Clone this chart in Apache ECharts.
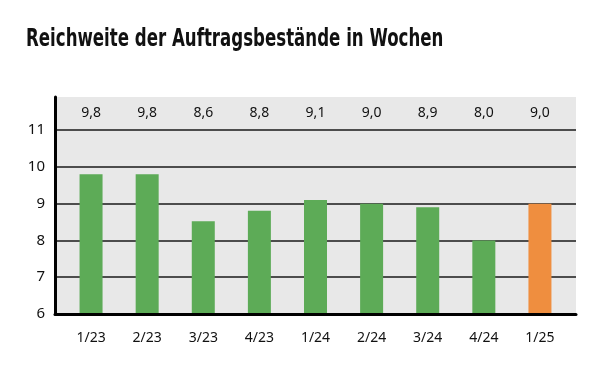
<!DOCTYPE html>
<html>
<head>
<meta charset="utf-8">
<script src="https://cdn.jsdelivr.net/npm/echarts@6/dist/echarts.min.js"></script>
<style>
html,body{margin:0;padding:0;background:#fff;}
#chart{width:613px;height:373px;}
</style>
</head>
<body>
<div id="chart"></div>
<script>
var titleText = 'Reichweite der Auftragsbestände in Wochen';
var categories = ['1/23','2/23','3/23','4/23','1/24','2/24','3/24','4/24','1/25'];
var barValues = [9.8, 9.8, 8.52, 8.81, 9.1, 9.0, 8.9, 8.0, 9.0];
var valueLabels = ['9,8','9,8','8,6','8,8','9,1','9,0','8,9','8,0','9,0'];
var yTicks = [6, 7, 8, 9, 10, 11];
var yMin = 6, yMax = 11.9;

var GREEN = '#5dab57', ORANGE = '#ef8e3f';
var labelFont = 'Noto Sans';

var chart = echarts.init(document.getElementById('chart'), null, {renderer:'canvas'});
chart.setOption({
  animation: false,
  backgroundColor: '#ffffff',
  graphic: [{
    type: 'text', x: 26, y: 40, scaleX: 0.77, scaleY: 1,
    style: {text: titleText, fontFamily: "'DejaVu Sans Condensed', Roboto", fontWeight: 'bold',
            fontSize: 24, fill: '#111', verticalAlign: 'middle', align: 'left'}
  }],
  grid: [
    {left: 55, right: 37, top: 97, bottom: 59, show: true, backgroundColor: '#e8e8e8', borderWidth: 0},
    {left: 63, right: 45, top: 97, bottom: 59}
  ],
  xAxis: [
    {gridIndex: 0, type: 'value', min: 0, max: 1, z: 10,
     axisLine: {show: true, onZero: false, lineStyle: {color: '#000', width: 3}},
     axisTick: {show: false}, axisLabel: {show: false}, splitLine: {show: false}},
    {gridIndex: 1, type: 'category', data: categories,
     axisLine: {show: false}, axisTick: {show: false},
     axisLabel: {margin: 17, fontFamily: labelFont, fontSize: 14, color: '#111'}},
    {gridIndex: 1, type: 'category', position: 'top', data: valueLabels,
     axisLine: {show: false}, axisTick: {show: false},
     axisLabel: {inside: true, margin: 9, fontFamily: labelFont, fontSize: 14, color: '#111'}}
  ],
  yAxis: [
    {gridIndex: 0, type: 'value', min: yMin, max: yMax, interval: 1,
     axisLine: {show: true, lineStyle: {color: '#000', width: 3}},
     axisTick: {show: false},
     axisLabel: {margin: 10, fontFamily: labelFont, fontSize: 15, color: '#111',
       formatter: function (v) { return yTicks.indexOf(v) >= 0 ? String(v) : ''; }},
     splitLine: {show: true, showMinLine: false, showMaxLine: false, lineStyle: {color: '#1a1a1a', width: 1.6}}},
    {gridIndex: 1, type: 'value', min: yMin, max: yMax, show: false}
  ],
  series: [{
    type: 'bar', xAxisIndex: 1, yAxisIndex: 1, barWidth: 23, z: 2,
    data: barValues.map(function (v, i) {
      return {value: v, itemStyle: {color: i === barValues.length - 1 ? ORANGE : GREEN}};
    })
  }]
});
</script>
</body>
</html>
